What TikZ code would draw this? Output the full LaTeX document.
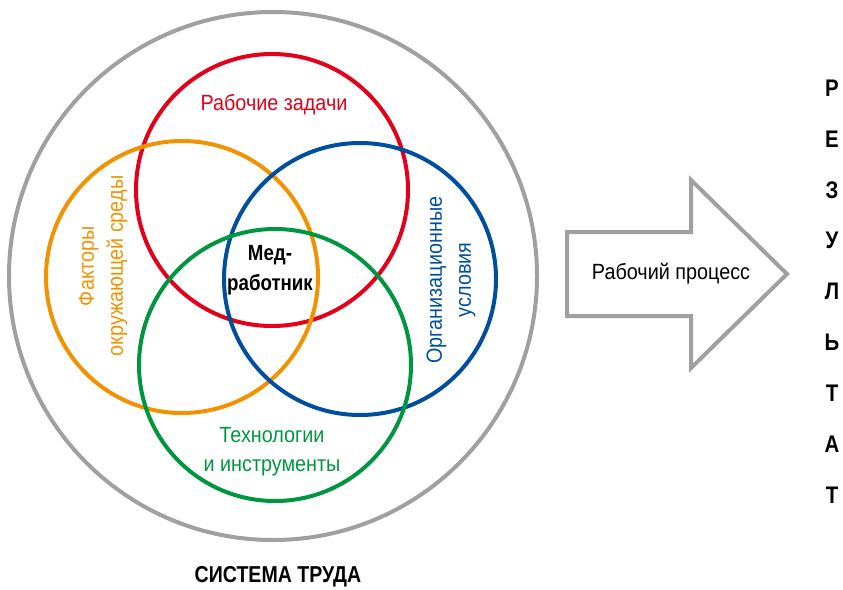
\documentclass[tikz,border=0pt]{standalone}
\usepackage{fontspec}
\setmainfont{Liberation Sans}[FakeStretch=0.9, BoldFeatures={FakeStretch=0.85}]
\usepackage{tikz}
\usetikzlibrary{positioning}

\definecolor{taskred}{HTML}{E2001A}
\definecolor{envorange}{HTML}{F39200}
\definecolor{orgblue}{HTML}{004F9E}
\definecolor{techgreen}{HTML}{009640}
\definecolor{framegray}{HTML}{A0A0A0}

\tikzstyle{ring} = [
    circle,
    minimum size=272pt,
    line width=4pt,
    draw
]
\tikzstyle{circletext} = [
    align=center,
    font=\fontsize{22}{29}\selectfont
]
\tikzstyle{boldtext} = [
    align=center,
    font=\bfseries\fontsize{22}{30}\selectfont
]

\begin{document}
\begin{tikzpicture}[x=1pt, y=-1pt]
\useasboundingbox (0,0) rectangle (843,589);

% work system
\node (system) [circle, minimum size=528pt, line width=4pt, draw=framegray] at (273,276) {};

\node (tasks) [ring, draw=taskred] at (272,190) {};
\node (env) [ring, draw=envorange] at (182,277) {};
\node (org) [ring, draw=orgblue] at (360,279) {};
\node (tech) [ring, draw=techgreen] at (275,365) {};

\node (taskstext) [circletext, text=taskred] at (274,105) {Рабочие задачи};
\node (envtext) [circletext, text=envorange, rotate=90] at (103,266)
{Факторы\\окружающей среды};
\node (orgtext) [circletext, text=orgblue, rotate=90] at (451,280)
{Организационные\\условия};
\node (techtext) [circletext, text=techgreen] at (272,452)
{Технологии\\и инструменты};

\node (worker) [boldtext] at (270,270) {Мед-\\работник};

\node (systemtext) [boldtext, font=\bfseries\fontsize{23}{30}\selectfont] at (278,577)
{СИСТЕМА ТРУДА};

% process arrow
\coordinate (a1) at (567,232);
\coordinate (a2) at (691,232);
\coordinate (a3) at (691,180);
\coordinate (tip) at (787,274);
\coordinate (a4) at (691,368);
\coordinate (a5) at (691,316);
\coordinate (a6) at (567,316);
\draw [line width=4pt, draw=framegray, fill=white]
(a1) -- (a2) -- (a3) -- (tip) -- (a4) -- (a5) -- (a6) -- cycle;
\node (process) [circletext] at (671,274) {Рабочий процесс};

% result
\foreach \l [count=\i] in {Р,Е,З,У,Л,Ь,Т,А,Т}
    \node (res\i) [boldtext, font=\bfseries\fontsize{24}{30}\selectfont]
    at (832,{88+50.9*(\i-1)}) {\l};

\end{tikzpicture}
\end{document}
